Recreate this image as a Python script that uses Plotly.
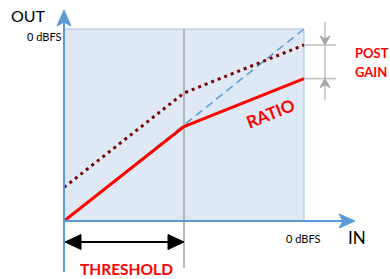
import plotly.graph_objects as go

# ---- data (dB) ----
IN_MIN, IN_MAX = -60, 0
OUT_MIN, OUT_MAX = -60, 0
THRESHOLD = -30

in_points = [-60, -30, 0]            # input level: start, threshold (knee), 0 dBFS
unity_in = [-60, 0]
unity_out = [-60, 0]                 # 1:1 reference line
ratio_out = [-60, -30.5, -15.5]      # compressed output (ratio)
gain_out = [-49.5, -20, -5]          # compressed output + post gain

# ---- pixel placement of the box (for layout only) ----
W, H = 390, 279
BL, BR, BT, BB = 64, 304, 29, 221
sx = (BR - BL) / (IN_MAX - IN_MIN)
sy = (BB - BT) / (OUT_MAX - OUT_MIN)


def X(px):
    return IN_MIN + (px - BL) / sx


def Y(py):
    return OUT_MIN + (BB - py) / sy


def dx(px):
    return px / sx


def dy(py):
    return py / sy


BLUE = "#5b9bd5"
GRAY = "#a6a6a6"
RED = "#ff0000"
DARKRED = "#7a0000"
FONT = "Lato"


def tri(pts):
    return "M " + " L ".join(f"{a},{b}" for a, b in pts) + " Z"


fig = go.Figure()

fig.add_trace(go.Scatter(x=unity_in, y=unity_out, mode="lines",
                         line=dict(color=BLUE, width=1.5, dash="8px,5px"),
                         hoverinfo="skip", showlegend=False))
fig.add_trace(go.Scatter(x=in_points, y=gain_out, mode="lines",
                         line=dict(color=DARKRED, width=3, dash="3px,4px"),
                         hoverinfo="skip", showlegend=False))
fig.add_trace(go.Scatter(x=in_points, y=ratio_out, mode="lines",
                         line=dict(color=RED, width=3),
                         hoverinfo="skip", showlegend=False))

shapes = []
# box
shapes.append(dict(type="rect", x0=IN_MIN, x1=IN_MAX, y0=OUT_MIN, y1=OUT_MAX,
                   fillcolor="#dee9f5", line=dict(color="#a3c3e4", width=1),
                   layer="below"))
# threshold line
shapes.append(dict(type="line", x0=THRESHOLD, x1=THRESHOLD, y0=OUT_MAX, y1=Y(268),
                   line=dict(color=GRAY, width=1.5), layer="below"))
# y axis
shapes.append(dict(type="line", x0=IN_MIN, x1=IN_MIN, y0=Y(272), y1=OUT_MAX + dy(BT - 22),
                   line=dict(color=BLUE, width=2)))
tipy = OUT_MAX + dy(BT - 10)
shapes.append(dict(type="path", path=tri([(IN_MIN, tipy),
                                          (IN_MIN - dx(7), tipy - dy(16)),
                                          (IN_MIN, tipy - dy(12)),
                                          (IN_MIN + dx(7), tipy - dy(16))]),
                   fillcolor=BLUE, line=dict(color=BLUE, width=1)))
# x axis
shapes.append(dict(type="line", x0=IN_MIN, x1=IN_MAX + dx(41), y0=OUT_MIN, y1=OUT_MIN,
                   line=dict(color=BLUE, width=2)))
tipx = IN_MAX + dx(51)
shapes.append(dict(type="path", path=tri([(tipx, OUT_MIN),
                                          (tipx - dx(16), OUT_MIN + dy(7)),
                                          (tipx - dx(12), OUT_MIN),
                                          (tipx - dx(16), OUT_MIN - dy(7))]),
                   fillcolor=BLUE, line=dict(color=BLUE, width=1)))
# threshold double arrow
ay = Y(242)
shapes.append(dict(type="line", x0=IN_MIN + dx(10), x1=THRESHOLD - dx(10), y0=ay, y1=ay,
                   line=dict(color="black", width=2)))
shapes.append(dict(type="path", path=tri([(IN_MIN + dx(1), ay),
                                          (IN_MIN + dx(17), ay + dy(7.5)),
                                          (IN_MIN + dx(17), ay - dy(7.5))]),
                   fillcolor="black", line=dict(color="black", width=1)))
shapes.append(dict(type="path", path=tri([(THRESHOLD, ay),
                                          (THRESHOLD - dx(16), ay + dy(7.5)),
                                          (THRESHOLD - dx(16), ay - dy(7.5))]),
                   fillcolor="black", line=dict(color="black", width=1)))
# post gain markers
gx = IN_MAX + dx(21)
top = gain_out[-1]
bot = ratio_out[-1]
shapes.append(dict(type="line", x0=gx, x1=gx, y0=top + dy(23), y1=bot - dy(22),
                   line=dict(color="#bfbfbf", width=1.5)))
for yy in (top, bot):
    shapes.append(dict(type="line", x0=IN_MAX, x1=IN_MAX + dx(32), y0=yy, y1=yy,
                       line=dict(color="#bfbfbf", width=1.5)))
shapes.append(dict(type="path", path=tri([(gx, top), (gx - dx(5), top + dy(9)),
                                          (gx, top + dy(6)), (gx + dx(5), top + dy(9))]),
                   fillcolor="#a6a6a6", line=dict(color="#a6a6a6", width=1)))
shapes.append(dict(type="path", path=tri([(gx, bot), (gx - dx(5), bot - dy(9)),
                                          (gx, bot - dy(6)), (gx + dx(5), bot - dy(9))]),
                   fillcolor="#a6a6a6", line=dict(color="#a6a6a6", width=1)))

ann = []


def label(text, px, py, size, color="black", bold=False, angle=0, xanchor="center"):
    t = f"<b>{text}</b>" if bold else text
    ann.append(dict(text=t, x=X(px), y=Y(py), xref="x", yref="y", showarrow=False,
                    xanchor=xanchor, yanchor="middle", textangle=angle,
                    font=dict(family=FONT, size=size, color=color)))


label("OUT", 28, 15, 16)
label("0 dBFS", 63, 36, 11, xanchor="right")
label("0 dBFS", 303, 238, 11)
label("IN", 357, 237, 17)
label("THRESHOLD", 126, 269, 15.5, RED, bold=True)
label("POST", 372, 53, 13, RED, bold=True)
label("GAIN", 371, 72, 13, RED, bold=True)
label("RATIO", 270, 113, 17, RED, bold=True, angle=-22)

fig.update_layout(
    width=W, height=H, margin=dict(l=0, r=0, t=0, b=0),
    paper_bgcolor="white", plot_bgcolor="white",
    xaxis=dict(range=[X(0), X(W)], visible=False, fixedrange=True),
    yaxis=dict(range=[Y(H), Y(0)], visible=False, fixedrange=True),
    shapes=shapes, annotations=ann, showlegend=False,
)

fig.write_html("out.html", config={"displayModeBar": False},
               post_script="document.body.style.margin='0';document.body.style.overflow='hidden';")
